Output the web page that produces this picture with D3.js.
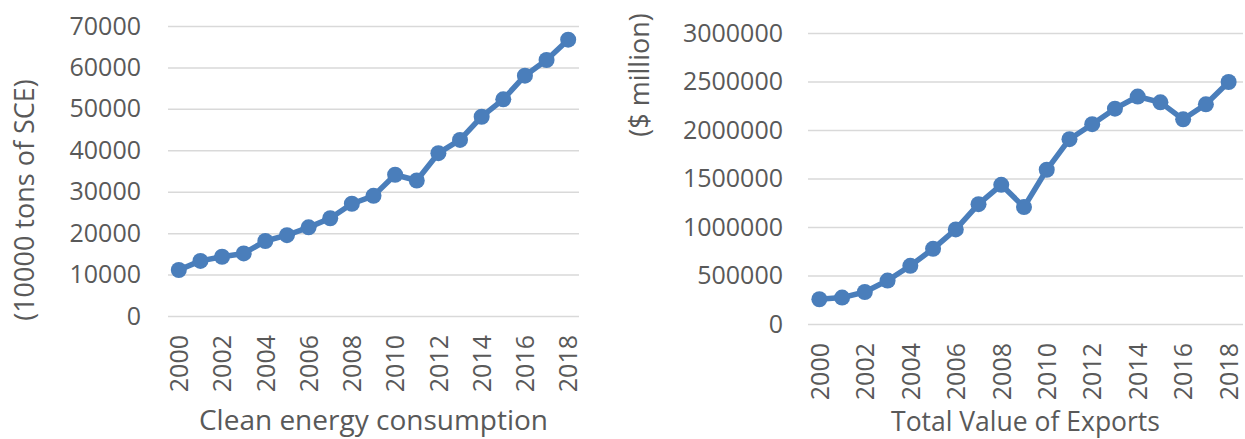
<!DOCTYPE html>
<html>
<head>
<meta charset="utf-8">
<script src="https://cdn.jsdelivr.net/npm/d3@7"></script>
<style>
  body { margin: 0; background: #fff; }
  .axis text { font-family: "Open Sans", sans-serif; fill: #595959; }
  .axis .domain { display: none; }
</style>
</head>
<body>
<div id="chart"></div>
<script>
// data
var years = [2000,2001,2002,2003,2004,2005,2006,2007,2008,2009,2010,2011,2012,2013,2014,2015,2016,2017,2018];
var cleanEnergy = [11100,13300,14300,15100,18100,19500,21400,23600,27100,29000,34100,32700,39300,42500,48100,52300,58000,61800,66700];
var exportsValue = [255000,272000,330000,448000,600000,775000,975000,1235000,1435000,1205000,1590000,1905000,2060000,2220000,2345000,2285000,2110000,2265000,2495000];
var yearTicks = [2000,2002,2004,2006,2008,2010,2012,2014,2016,2018];
var energyTicks = [0,10000,20000,30000,40000,50000,60000,70000];
var exportTicks = [0,500000,1000000,1500000,2000000,2500000,3000000];

var blue = "#4a7ebb"
var grid = "#d9d9d9"
var textGrey = "#595959"

var svg = d3.select("#chart")
  .append("svg")
    .attr("width", 1245)
    .attr("height", 439)

function drawPanel(opt) {
  var g = svg.append("g")

  var x = d3.scalePoint()
    .domain(years)
    .range([opt.left, opt.pointRight || opt.right])
    .padding(0.5)

  var y = d3.scaleLinear()
    .domain([0, opt.max])
    .range([opt.bottom, opt.top])

  // y axis + gridlines
  g.append("g")
    .attr("class", "axis")
    .attr("transform", "translate(" + opt.left + ",0)")
    .call(d3.axisLeft(y).tickValues(opt.ticks).tickSize(-(opt.right - opt.left)).tickPadding(opt.labelGap).tickFormat(d3.format("d")))
    .call(function(a) {
      a.selectAll("line").attr("stroke", grid).attr("stroke-width", 1.5)
      a.selectAll("text").style("font-size", "25px")
    })

  // x axis, rotated year labels
  g.append("g")
    .attr("class", "axis")
    .attr("transform", "translate(0," + opt.bottom + ")")
    .call(d3.axisBottom(x).tickValues(yearTicks).tickSize(0))
    .call(function(a) {
      a.selectAll("text")
        .style("font-size", "25px")
        .attr("transform", "rotate(-90)")
        .attr("text-anchor", "end")
        .attr("x", -19)
        .attr("y", 0)
        .attr("dy", "0.35em")
    })

  var line = d3.line()
    .x(function(d, i) { return x(years[i]) })
    .y(function(d) { return y(d) })

  g.append("path")
    .datum(opt.values)
    .attr("d", line)
    .attr("fill", "none")
    .attr("stroke", blue)
    .attr("stroke-width", 5.5)
    .attr("stroke-linejoin", "round")

  g.selectAll("circle")
    .data(opt.values)
    .enter()
    .append("circle")
      .attr("cx", function(d, i) { return x(years[i]) })
      .attr("cy", function(d) { return y(d) })
      .attr("r", 8)
      .attr("fill", blue)

  // axis titles
  g.append("text")
    .attr("transform", "translate(" + opt.yTitleX + "," + opt.yTitleY + ") rotate(-90)")
    .attr("text-anchor", "middle")
    .attr("dy", "0.35em")
    .style("font-family", "Open Sans, sans-serif")
    .style("font-size", "27px")
    .style("fill", textGrey)
    .text(opt.yTitle)

  g.append("text")
    .attr("x", (opt.left + opt.right) / 2)
    .attr("y", opt.xTitleY)
    .attr("text-anchor", "middle")
    .style("font-family", "Open Sans, sans-serif")
    .style("font-size", opt.xTitleSize + "px")
    .style("fill", textGrey)
    .text(opt.xTitle)
}

drawPanel({
  values: cleanEnergy, max: 70000, ticks: energyTicks,
  left: 168, right: 579, top: 26, bottom: 316, labelGap: 27,
  yTitle: "(10000 tons of SCE)", yTitleX: 25, yTitleY: 200,
  xTitle: "Clean energy consumption", xTitleY: 430, xTitleSize: 28
})

drawPanel({
  values: exportsValue, max: 3000000, ticks: exportTicks,
  left: 808, right: 1243, pointRight: 1240, top: 33, bottom: 324, labelGap: 25,
  yTitle: "($ million)", yTitleX: 640, yTitleY: 75,
  xTitle: "Total Value of Exports", xTitleY: 431, xTitleSize: 26.5
})
</script>
</body>
</html>
